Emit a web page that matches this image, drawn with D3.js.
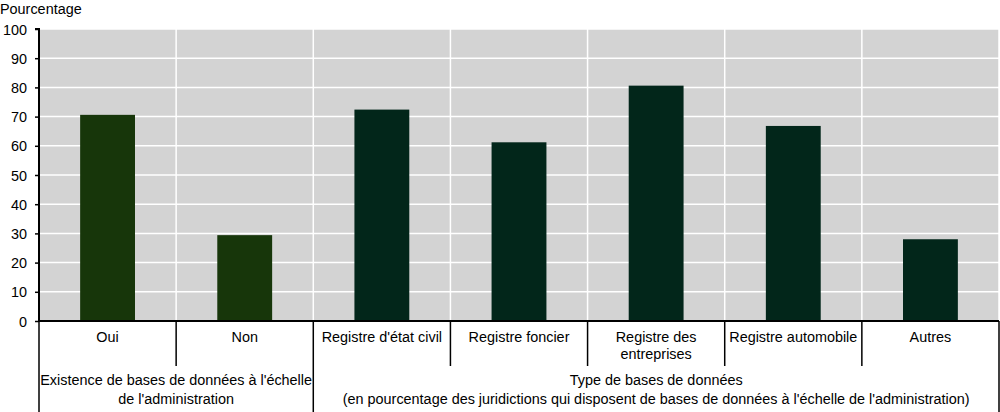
<!DOCTYPE html>
<html><head><meta charset="utf-8">
<script src="https://cdn.jsdelivr.net/npm/d3@7"></script>
<style>body{margin:0;background:#fff}svg{display:block}text{font-family:"Liberation Sans",Arial,sans-serif;fill:#000}</style>
</head><body><svg id="c" width="1000" height="412"></svg>
<script>
const categories = ["Oui","Non","Registre d'état civil","Registre foncier","Registre des entreprises","Registre automobile","Autres"];
const categoryLines = [["Oui"],["Non"],["Registre d'état civil"],["Registre foncier"],["Registre des","entreprises"],["Registre automobile"],["Autres"]];
const values = [70.6, 29.4, 72.4, 61.2, 80.6, 66.8, 28.0];
const groupOf = [0,0,1,1,1,1,1];
const groups = [
  {start:0, end:2, lines:["Existence de bases de données à l'échelle","de l'administration"]},
  {start:2, end:7, lines:["Type de bases de données","(en pourcentage des juridictions qui disposent de bases de données à l'échelle de l'administration)"]}
];
const yTicks = [0,10,20,30,40,50,60,70,80,90,100];
const colors = ["#17360a","#02261a"];

const SX = 0.93;
const svg = d3.select("#c");
const L=39, R=999, T=29, B=321;
const x = d3.scaleBand().domain(d3.range(categories.length)).range([L,R]).paddingInner(0).paddingOuter(0);
const y = d3.scaleLinear().domain([0,100]).range([B,T]);

function label(px, py, lines, anchor, size, dy){
  const g = svg.append("g").attr("transform",`translate(${px},${py}) scale(${SX},1)`);
  const t = g.append("text").attr("text-anchor",anchor).attr("font-size",size);
  lines.forEach((l,j)=>t.append("tspan").attr("x",0).attr("y",j*dy).text(l));
}

svg.append("rect").attr("x",L).attr("y",T).attr("width",R-L).attr("height",B-T).attr("fill","#d3d3d3");
svg.append("g").selectAll("line").data(yTicks.filter(d=>d>0)).join("line")
  .attr("x1",L).attr("x2",R).attr("y1",d=>y(d)).attr("y2",d=>y(d)).attr("stroke","#fff").attr("stroke-width",1.5);
svg.append("g").selectAll("line").data(d3.range(1,categories.length+1)).join("line")
  .attr("x1",d=>x(d-1)+x.bandwidth()).attr("x2",d=>x(d-1)+x.bandwidth()).attr("y1",T).attr("y2",B).attr("stroke","#fff").attr("stroke-width",1.5);
const bw = x.bandwidth()*0.4;
svg.append("g").selectAll("rect").data(values).join("rect")
  .attr("x",(d,i)=>x(i)+(x.bandwidth()-bw)/2).attr("width",bw)
  .attr("y",d=>y(d)).attr("height",d=>B-y(d)).attr("fill",(d,i)=>colors[groupOf[i]]);
// y axis
const ya = svg.append("g").attr("transform",`translate(${L},0)`).call(d3.axisLeft(y).tickValues(yTicks).tickSize(4).tickFormat(""));
ya.select(".domain").attr("stroke","#000").attr("stroke-width",2).attr("d",`M-4,${T}H0V${B}`);
ya.selectAll(".tick line").attr("stroke","#000").attr("stroke-width",1.5);
yTicks.forEach(v=>label(27, y(v)+5.5, [String(v)], "end", 15.5, 0));
svg.append("line").attr("x1",L).attr("x2",R).attr("y1",B).attr("y2",B).attr("stroke","#000").attr("stroke-width",2);
const boundaries = d3.range(0,categories.length+1);
const bx = d=>d<categories.length? x(d): x(d-1)+x.bandwidth();
svg.append("g").selectAll("line").data(boundaries).join("line")
  .attr("x1",bx).attr("x2",bx)
  .attr("y1",B).attr("y2",d=>groups.some(g=>g.start===d||g.end===d)?412:366)
  .attr("stroke","#000").attr("stroke-width",1.5);
categoryLines.forEach((ls,i)=>label(x(i)+x.bandwidth()/2, 341.5, ls, "middle", 15.5, 18));
groups.forEach(g=>{
  const cx = (x(g.start) + x(g.end-1)+x.bandwidth())/2;
  label(cx, 385, g.lines, "middle", 15.5, 19);
});
label(0, 14, ["Pourcentage"], "start", 15.5, 0);
</script></body></html>
